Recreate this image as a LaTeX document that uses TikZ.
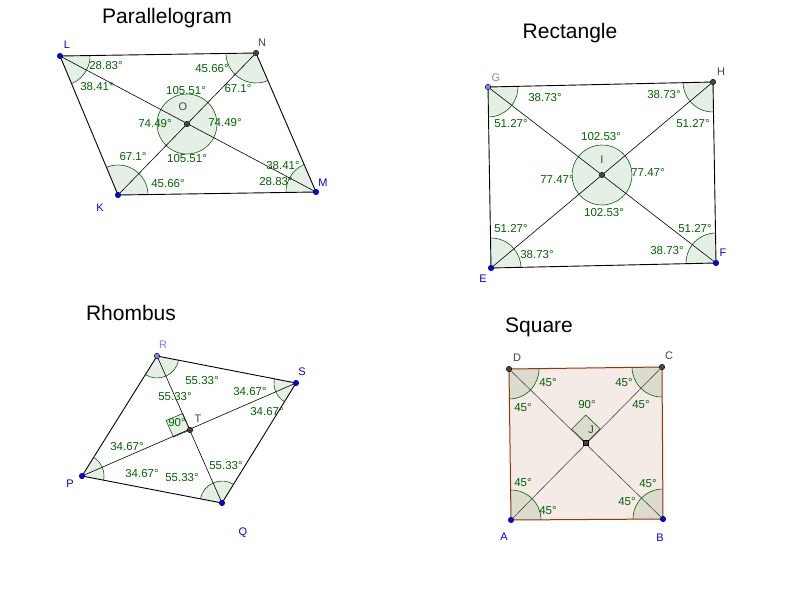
\documentclass[tikz,border=0pt]{standalone}
\usepackage{fontspec}
\setmainfont{Liberation Sans}
\usetikzlibrary{angles,calc}
\definecolor{dg}{RGB}{0,100,0}
\definecolor{lb}{RGB}{0,0,255}
\definecolor{lp}{RGB}{125,125,255}
\definecolor{pg}{RGB}{68,68,68}
\definecolor{br}{RGB}{153,51,0}
\definecolor{pk}{RGB}{244,234,230}
\tikzset{
  sect/.style={draw=dg,line width=0.6pt,fill=dg,fill opacity=0.1,angle radius=#1},
  lab/.style={text=dg,font=\fontsize{11.5}{12}\selectfont,inner sep=0pt},
  ptl/.style={font=\fontsize{11}{12}\selectfont,inner sep=0pt},
  ttl/.style={font=\fontsize{21}{24}\selectfont,inner sep=0pt},
  edge/.style={draw=black,line width=0.9pt},
  diag/.style={draw=black,line width=0.6pt},
  pt/.style={circle,draw=black,line width=0.4pt,fill=#1,inner sep=0pt,minimum size=5.5pt}
}
\newcommand{\quadang}[6]{%
  \pic[sect=#6]{angle=#4--#1--#5};\pic[sect=#6]{angle=#5--#1--#2};
  \pic[sect=#6]{angle=#1--#2--#5};\pic[sect=#6]{angle=#5--#2--#3};
  \pic[sect=#6]{angle=#2--#3--#5};\pic[sect=#6]{angle=#5--#3--#4};
  \pic[sect=#6]{angle=#3--#4--#5};\pic[sect=#6]{angle=#5--#4--#1};}
\newcommand{\circang}[6]{%
  \pic[sect=#6]{angle=#3--#5--#2};\pic[sect=#6]{angle=#2--#5--#1};
  \pic[sect=#6]{angle=#1--#5--#4};\pic[sect=#6]{angle=#4--#5--#3};}
\begin{document}
\begin{tikzpicture}[x=1pt,y=-1pt]
\useasboundingbox (0,0) rectangle (800,600);
% titles
\node[ttl] (t1) at (167,18) {Parallelogram};
\node[ttl] (t2) at (570,33) {Rectangle};
\node[ttl] (t3) at (131,313) {Rhombus};
\node[ttl] (t4) at (539,327) {Square};
% ---------- Parallelogram
\coordinate (L) at (60,56); \coordinate (N) at (256,53);
\coordinate (M) at (316,192); \coordinate (K) at (118,195);
\coordinate (O) at (187,124);
\quadang{L}{N}{M}{K}{O}{30}
\circang{L}{N}{M}{K}{O}{30}
\draw[edge] (L)--(N)--(M)--(K)--cycle;
\draw[diag] (L)--(M) (N)--(K);
\node[pt=lb] (pL) at (L) {}; \node[pt=pg] (pN) at (N) {};
\node[pt=lb] (pM) at (M) {}; \node[pt=lb] (pK) at (K) {};
\node[pt=pg] (pO) at (O) {};
\node[ptl,text=lb] (lL) at (67,45) {L};
\node[ptl,text=pg] (lN) at (262,43) {N};
\node[ptl,text=lb] (lK) at (100,208) {K};
\node[ptl,text=lb] (lM) at (323,183) {M};
\node[ptl,text=pg] (lO) at (183,107) {O};
\node[lab] at (106,66) {28.83°};
\node[lab] at (97,87) {38.41°};
\node[lab] at (212,69) {45.66°};
\node[lab] at (238,89) {67.1°};
\node[lab] at (186,91) {105.51°};
\node[lab] at (155,124) {74.49°};
\node[lab] at (225,123) {74.49°};
\node[lab] at (187,159) {105.51°};
\node[lab] at (133,157) {67.1°};
\node[lab] at (168,184) {45.66°};
\node[lab] at (283,166) {38.41°};
\node[lab] at (276,182) {28.83°};
% ---------- Rectangle
\coordinate (G) at (488,87); \coordinate (H) at (713,82);
\coordinate (F) at (716,263); \coordinate (E) at (491,268);
\coordinate (I) at (602,175);
\quadang{G}{H}{F}{E}{I}{30}
\circang{G}{H}{F}{E}{I}{30}
\draw[edge] (G)--(H)--(F)--(E)--cycle;
\draw[diag] (G)--(F) (H)--(E);
\node[pt=lp] (pG) at (G) {}; \node[pt=pg] (pH) at (H) {};
\node[pt=lb] (pF) at (F) {}; \node[pt=lb] (pE) at (E) {};
\node[pt=pg] (pI) at (I) {};
\node[ptl,text=lp] (lG) at (496,78) {G};
\node[ptl,text=pg] (lH) at (721,72) {H};
\node[ptl,text=lb] (lF) at (723,253) {F};
\node[ptl,text=lb] (lE) at (483,279) {E};
\node[ptl,text=pg] (lI) at (602,160) {I};
\node[lab] at (545,98) {38.73°};
\node[lab] at (511,124) {51.27°};
\node[lab] at (664,95) {38.73°};
\node[lab] at (693,124) {51.27°};
\node[lab] at (601,137) {102.53°};
\node[lab] at (557,179) {77.47°};
\node[lab] at (648,172) {77.47°};
\node[lab] at (604,213) {102.53°};
\node[lab] at (511,229) {51.27°};
\node[lab] at (537,255) {38.73°};
\node[lab] at (695,229) {51.27°};
\node[lab] at (667,251) {38.73°};
% ---------- Rhombus
\coordinate (R) at (157,356); \coordinate (S) at (296,383);
\coordinate (Q) at (222,503); \coordinate (P) at (82,476);
\coordinate (T) at (190,430);
\quadang{R}{S}{Q}{P}{T}{22}
\draw[draw=dg,line width=0.6pt,fill=dg,fill opacity=0.1]
  (T) -- ($(T)!18pt!(R)$) -- ($($(T)!18pt!(R)$)+($(T)!18pt!(P)$)-(T)$) -- ($(T)!18pt!(P)$) -- cycle;
\draw[edge] (R)--(S)--(Q)--(P)--cycle;
\draw[diag] (R)--(Q) (S)--(P);
\node[pt=lp] (pR) at (R) {}; \node[pt=lb] (pS) at (S) {};
\node[pt=lb] (pQ) at (Q) {}; \node[pt=lb] (pP) at (P) {};
\node[pt=pg] (pT) at (T) {};
\node[ptl,text=lp] (lR) at (163,345) {R};
\node[ptl,text=lb] (lS) at (302,372) {S};
\node[ptl,text=lb] (lP) at (70,484) {P};
\node[ptl,text=lb] (lQ) at (243,533) {Q};
\node[ptl,text=pg] (lT) at (198,419) {T};
\node[lab] at (202,381) {55.33°};
\node[lab] at (175,397) {55.33°};
\node[lab] at (250,392) {34.67°};
\node[lab] at (267,412) {34.67°};
\node[lab] at (177,423) {90°};
\node[lab] at (127,447) {34.67°};
\node[lab] at (142,474) {34.67°};
\node[lab] at (182,478) {55.33°};
\node[lab] at (226,466) {55.33°};
% ---------- Square
\coordinate (D) at (509,369); \coordinate (C) at (662,367);
\coordinate (B) at (663,519); \coordinate (A) at (511,520);
\coordinate (J) at (586,443);
\fill[pk] (D)--(C)--(B)--(A)--cycle;
\quadang{D}{C}{B}{A}{J}{30}
\draw[draw=dg,line width=0.6pt,fill=dg,fill opacity=0.1]
  (J) -- ($(J)!20pt!(D)$) -- ($($(J)!20pt!(D)$)+($(J)!20pt!(C)$)-(J)$) -- ($(J)!20pt!(C)$) -- cycle;
\draw[draw=br,line width=1pt] (D)--(C)--(B)--(A)--cycle;
\draw[diag,draw=black!70] (D)--(B) (C)--(A);
\node[pt=pg] (pD) at (D) {}; \node[pt=pg] (pC) at (C) {};
\node[pt=lb] (pB) at (B) {}; \node[pt=lb] (pA) at (A) {};
\node[pt=pg,rectangle,minimum size=5pt] (pJ) at (J) {};
\node[ptl,text=pg] (lD) at (517,358) {D};
\node[ptl,text=pg] (lC) at (669,356) {C};
\node[ptl,text=lb] (lA) at (504,537) {A};
\node[ptl,text=lb] (lB) at (660,538) {B};
\node[ptl,text=pg] (lJ) at (591,430) {J};
\node[lab] at (548,383) {45°};
\node[lab] at (523,408) {45°};
\node[lab] at (624,383) {45°};
\node[lab] at (641,405) {45°};
\node[lab] at (587,405) {90°};
\node[lab] at (523,483) {45°};
\node[lab] at (548,511) {45°};
\node[lab] at (648,484) {45°};
\node[lab] at (627,502) {45°};
\end{tikzpicture}
\end{document}
